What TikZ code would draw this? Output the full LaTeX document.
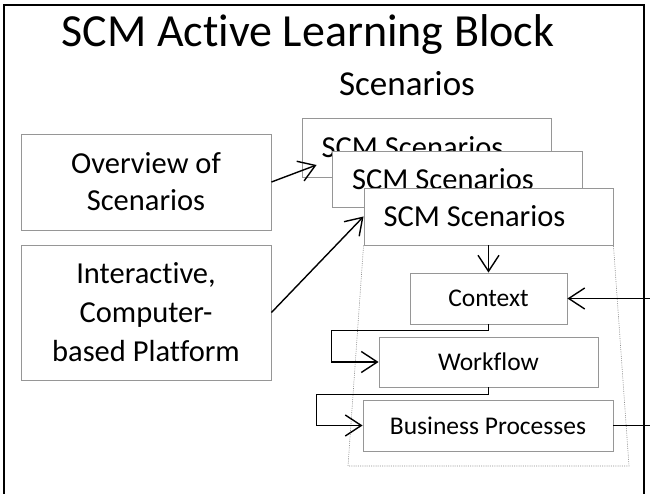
\documentclass[tikz,border=0pt]{standalone}
\usepackage{fontspec}
\setmainfont{Carlito}[Ligatures={NoCommon}]
\usetikzlibrary{arrows.meta}
\definecolor{boxgray}{RGB}{150,150,150}
\definecolor{dotgray}{RGB}{140,140,140}
\tikzset{
  x=1pt, y=-1pt,
  box/.style={draw=boxgray, line width=0.9pt, fill=white, inner sep=0pt, align=center, text=black},
  bigtxt/.style={font=\fontsize{30.5}{37}\selectfont},
  smalltxt/.style={font=\fontsize{25.5}{30}\selectfont},
  conn/.style={draw=black, line width=1.4pt, -{Straight Barb[length=16pt,width=21pt]}},
}
\begin{document}
\begin{tikzpicture}
\useasboundingbox (0,0) rectangle (650,494);
\clip (0,0) rectangle (650,494);
\fill[white] (0,0) rectangle (650,494);
% outer frame
\draw[line width=2.2pt] (4,5) rectangle (644,520);
% headings
\node[anchor=base, font=\fontsize{46}{55}\selectfont, inner sep=0pt] (title) at (308,47) {SCM Active Learning Block};
\node[anchor=base, font=\fontsize{35}{42}\selectfont, inner sep=0pt] (heading) at (407,96) {Scenarios};
% scenario stack
\node[box, bigtxt, minimum width=249pt, minimum height=59pt] (s1) at (426.5,147.5) {SCM Scenarios\hspace*{28pt}};
\node[box, bigtxt, minimum width=250pt, minimum height=56pt] (s2) at (457,179) {SCM Scenarios\hspace*{28pt}};
\node[box, bigtxt, minimum width=249pt, minimum height=57pt] (s3) at (488.5,216.5) {SCM Scenarios\hspace*{28pt}};
% dotted trapezoid
\coordinate (tbl) at (348,466);
\coordinate (tbr) at (629,466);
\draw[dotgray, line width=0.6pt, dash pattern=on 1pt off 1.2pt] (s3.south west) -- (tbl) -- (tbr) -- (s3.south east);
% inner boxes
\node[box, smalltxt, minimum width=157pt, minimum height=51pt] (ctx) at (488.5,298.5) {Context};
\node[box, smalltxt, minimum width=219pt, minimum height=50pt] (wf) at (488.5,362) {Workflow};
\node[box, smalltxt, minimum width=250pt, minimum height=51pt] (bp) at (488,425.5) {Business Processes};
% left boxes
\node[box, bigtxt, minimum width=250pt, minimum height=96pt] (ov) at (146,182) {Overview of\\Scenarios};
\node[box, font=\fontsize{30.5}{39}\selectfont, minimum width=250pt, minimum height=135pt] (ip) at (146,312.5) {Interactive,\\Computer-\\based Platform};
% connectors
\draw[conn] (ov.east) -- ([shift={(15,17.5)}]s1.west);
\draw[conn] (ip.east) -- (s3.west);
\draw[conn] (s3.south) -- (ctx.north);
\draw[conn] (ctx.south) -- ++(0,6) -| ([xshift=-47pt]wf.west) -- (wf.west);
\draw[conn] (wf.south) -- ++(0,7) -| ([xshift=-46pt]bp.west) -- (bp.west);
\draw[conn] (bp.east) -- ++(47,0) |- (ctx.east);
\end{tikzpicture}
\end{document}
